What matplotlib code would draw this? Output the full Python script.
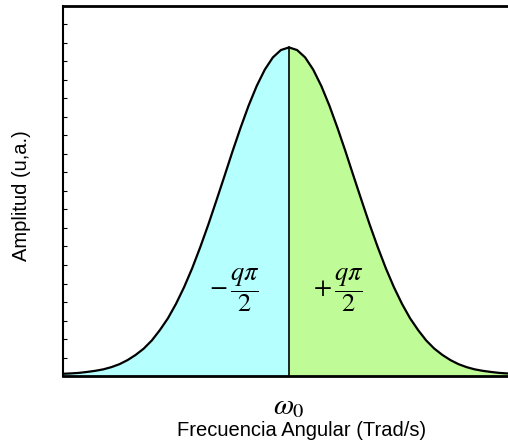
import matplotlib
matplotlib.use("Agg")
import matplotlib.pyplot as plt
import numpy as np

plt.rcParams['font.family'] = ['Liberation Sans', 'DejaVu Sans']
plt.rcParams['mathtext.fontset'] = 'stix'

# desviacion respecto a w0 (unidades de anchura) y amplitud leida
offset = [0.0, 0.125, 0.25, 0.375, 0.5, 0.625, 0.75, 0.875, 1.0, 1.125,
          1.25, 1.375, 1.5, 1.625, 1.75, 1.875, 2.0, 2.125, 2.25, 2.375,
          2.5, 2.625, 2.75, 2.875, 3.0, 3.125, 3.25, 3.375, 3.5]
amp = [0.888, 0.881, 0.861, 0.828, 0.784, 0.731, 0.671, 0.607, 0.540, 0.474,
       0.409, 0.348, 0.291, 0.240, 0.195, 0.156, 0.124, 0.096, 0.074, 0.057,
       0.043, 0.032, 0.024, 0.018, 0.014, 0.011, 0.0085, 0.007, 0.006]

# curva simetrica alrededor de w0
x_right = np.array(offset)
y_right = np.array(amp)
x_left = -x_right[::-1]
y_left = y_right[::-1]
x = np.concatenate([x_left, x_right[1:]])
y = np.concatenate([y_left, y_right[1:]])

fig = plt.figure(figsize=(5.08, 4.45), dpi=100)
ax = fig.add_axes([63 / 508, 69 / 445, 452 / 508, 370 / 445])

ax.fill_between(x_left, 0, y_left, color='#b5ffff', lw=0)
ax.fill_between(x_right, 0, y_right, color='#bffb96', lw=0)
ax.plot(x, y, color='black', lw=1.6, solid_joinstyle='round')
ax.plot([0, 0], [0, amp[0]], color='black', lw=1.2)

ax.set_xlim(-3.5, 3.5)
ax.set_ylim(0, 1)

for side in ['left', 'top', 'bottom', 'right']:
    ax.spines[side].set_color('black')
ax.spines['left'].set_linewidth(1.5)
ax.spines['top'].set_linewidth(2.0)
ax.spines['bottom'].set_linewidth(2.0)
ax.spines['right'].set_visible(False)

ax.set_xticks([])
ax.set_yticks(np.arange(0.05, 1.0, 0.05))
ax.tick_params(axis='y', direction='in', length=3, width=0.8, labelleft=False)

ax.text(-0.84, 0.232, r'$-\,\dfrac{q\pi}{2}$', fontsize=19, ha='center', va='center')
ax.text(0.76, 0.232, r'$+\,\dfrac{q\pi}{2}$', fontsize=19, ha='center', va='center')

ax.text(0, -0.08, r'$\omega_0$', transform=ax.get_xaxis_transform(),
        fontsize=21, ha='center', va='center')
fig.text(302 / 508, (445 - 430) / 445, 'Frecuencia Angular (Trad/s)',
         fontsize=14.5, ha='center', va='center')
fig.text(22 / 508, (445 - 196) / 445, 'Amplitud (u,a.)', rotation=90,
         fontsize=14.5, ha='center', va='center')

fig.savefig('out.png', dpi=100)
